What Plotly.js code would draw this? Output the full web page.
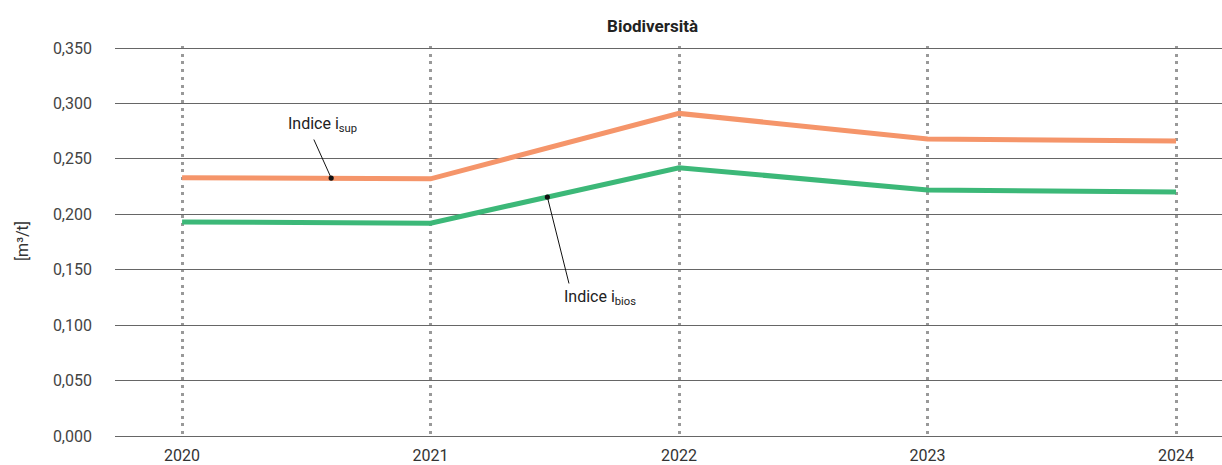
<!DOCTYPE html>
<html>
<head>
<meta charset="utf-8">
<script src="https://cdn.plot.ly/plotly-3.0.1.min.js"></script>
<style>html,body{margin:0;padding:0;background:#fff;}#chart{width:1222px;height:465px;}</style>
</head>
<body>
<div id="chart"></div>
<script>
const years = [2020, 2021, 2022, 2023, 2024];
const iSup = [0.233, 0.232, 0.291, 0.268, 0.266];
const iBios = [0.193, 0.192, 0.242, 0.222, 0.220];
const yTicks = [0, 0.05, 0.10, 0.15, 0.20, 0.25, 0.30, 0.35];
const chartTitle = 'Biodiversità';
const yTitle = '[m³/t]';
const labelSup = 'Indice i<sub>sup</sub>';
const labelBios = 'Indice i<sub>bios</sub>';

const font = 'Roboto, "Noto Sans", sans-serif';

const traces = [
  {x: years, y: iSup, type: 'scatter', mode: 'lines', line: {color: '#f5956a', width: 5}, hoverinfo: 'skip'},
  {x: years, y: iBios, type: 'scatter', mode: 'lines', line: {color: '#3cb878', width: 5}, hoverinfo: 'skip'}
];

const layout = {
  width: 1222, height: 465,
  margin: {l: 115, r: 0, t: 46, b: 29},
  paper_bgcolor: '#fff', plot_bgcolor: '#fff',
  showlegend: false,
  separators: ',.',
  font: {family: font, size: 16, color: '#333'},
  title: {text: '<b>' + chartTitle + '</b>', x: 0.534, xanchor: 'center', y: 0.945, yanchor: 'middle', font: {family: font, size: 17, color: '#222'}},
  xaxis: {
    range: [2019.73, 2024.185],
    tickvals: years, ticktext: years.map(String),
    showgrid: true, gridcolor: '#999', gridwidth: 3, griddash: '3px,4.7px',
    zeroline: false, showline: false, ticks: '',
    tickfont: {size: 16, color: '#333'},
    ticklabelstandoff: 8
  },
  yaxis: {
    range: [0, 0.3518],
    tickvals: yTicks, tickformat: '.3f',
    showgrid: true, gridcolor: '#666', gridwidth: 1,
    zeroline: true, zerolinecolor: '#666', zerolinewidth: 1,
    showline: false, ticks: '',
    tickfont: {size: 16, color: '#444'},
    ticklabelstandoff: 22,
    title: {text: yTitle, font: {size: 16, color: '#333'}, standoff: 20}
  },
  annotations: [
    {x: 2020.567, y: 0.2806, xref: 'x', yref: 'y', text: labelSup, showarrow: false, xanchor: 'center', yanchor: 'middle', font: {size: 16, color: '#222'}},
    {x: 2021.682, y: 0.1245, xref: 'x', yref: 'y', text: labelBios, showarrow: false, xanchor: 'center', yanchor: 'middle', font: {size: 16, color: '#222'}},
    {x: 2020.6, y: 0.2327, xref: 'x', yref: 'y', text: '', showarrow: true, arrowhead: 6, arrowsize: 1.3, arrowwidth: 1, arrowcolor: '#111', ax: -18, ay: -40, standoff: 0},
    {x: 2021.47, y: 0.2156, xref: 'x', yref: 'y', text: '', showarrow: true, arrowhead: 6, arrowsize: 1.3, arrowwidth: 1, arrowcolor: '#111', ax: 22, ay: 88, standoff: 0}
  ]
};

Plotly.newPlot('chart', traces, layout, {staticPlot: true, displayModeBar: false});
</script>
</body>
</html>
